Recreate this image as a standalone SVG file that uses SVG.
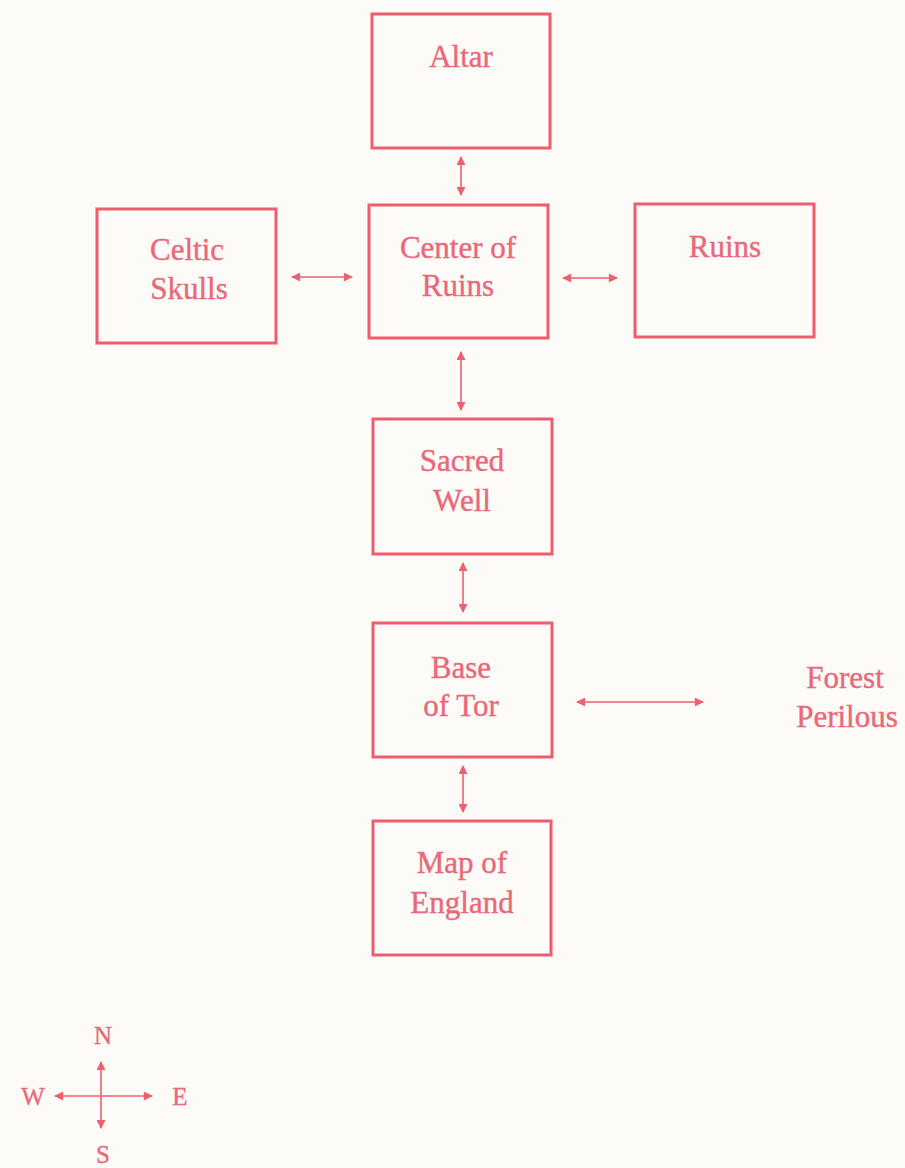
<svg xmlns="http://www.w3.org/2000/svg" width="905" height="1168" viewBox="0 0 905 1168">
  <defs>
    <style>
      .room { fill: none; stroke: #ee5d6c; stroke-width: 3; }
      .label { font-family: "Liberation Serif", "Times New Roman", serif; font-size: 31px; fill: #ea6878; stroke: #ea6878; stroke-width: 0.4; text-anchor: middle; }
      .compass-label { font-family: "Liberation Serif", "Times New Roman", serif; font-size: 25px; fill: #ea6878; stroke: #ea6878; stroke-width: 0.4; text-anchor: middle; }
      .link { stroke: #ec6070; stroke-width: 1.6; fill: none; marker-end: url(#tip); }
      .link.both { marker-start: url(#tip); }
    </style>
    <marker id="tip" viewBox="0 0 10 10" refX="9" refY="5" markerWidth="10" markerHeight="9" markerUnits="userSpaceOnUse" orient="auto-start-reverse">
      <path d="M0,0 L10,5 L0,10 Z" fill="#ec6070"/>
    </marker>
  </defs>

  <rect width="905" height="1168" fill="#fdfbf7"/>

  <g id="altar">
    <rect class="room" x="372" y="14" width="178" height="134"/>
    <text class="label" x="461" y="67">Altar</text>
  </g>

  <g id="celtic-skulls">
    <rect class="room" x="97" y="209" width="179" height="134"/>
    <text class="label" x="187" y="260">Celtic</text>
    <text class="label" x="189" y="299">Skulls</text>
  </g>

  <g id="center-of-ruins">
    <rect class="room" x="369" y="205" width="179" height="133"/>
    <text class="label" x="458" y="258">Center of</text>
    <text class="label" x="458" y="296">Ruins</text>
  </g>

  <g id="ruins">
    <rect class="room" x="635" y="204" width="179" height="133"/>
    <text class="label" x="725" y="257">Ruins</text>
  </g>

  <g id="sacred-well">
    <rect class="room" x="373" y="419" width="179" height="135"/>
    <text class="label" x="462" y="471">Sacred</text>
    <text class="label" x="462" y="511">Well</text>
  </g>

  <g id="base-of-tor">
    <rect class="room" x="373" y="623" width="179" height="134"/>
    <text class="label" x="461" y="678">Base</text>
    <text class="label" x="461" y="716">of Tor</text>
  </g>

  <g id="forest-perilous">
    <text class="label" x="845" y="688">Forest</text>
    <text class="label" x="847" y="727">Perilous</text>
  </g>

  <g id="map-of-england">
    <rect class="room" x="373" y="821" width="178" height="134"/>
    <text class="label" x="462" y="873">Map of</text>
    <text class="label" x="462" y="913">England</text>
  </g>

  <g id="connectors">
    <line class="link both" x1="461" y1="157" x2="461" y2="195"/>
    <line class="link both" x1="292" y1="277" x2="352" y2="277"/>
    <line class="link both" x1="563" y1="278" x2="617" y2="278"/>
    <line class="link both" x1="461" y1="352" x2="461" y2="410"/>
    <line class="link both" x1="463" y1="563" x2="463" y2="612"/>
    <line class="link both" x1="577" y1="702" x2="703" y2="702"/>
    <line class="link both" x1="463" y1="766" x2="463" y2="812"/>
  </g>

  <g id="compass">
    <line class="link" x1="101" y1="1096" x2="101" y2="1062"/>
    <line class="link" x1="101" y1="1096" x2="101" y2="1128"/>
    <line class="link" x1="101" y1="1096" x2="55" y2="1096"/>
    <line class="link" x1="101" y1="1096" x2="152" y2="1096"/>
    <text class="compass-label" x="103" y="1044">N</text>
    <text class="compass-label" x="33" y="1105">W</text>
    <text class="compass-label" x="180" y="1105">E</text>
    <text class="compass-label" x="103" y="1163">S</text>
  </g>
</svg>
